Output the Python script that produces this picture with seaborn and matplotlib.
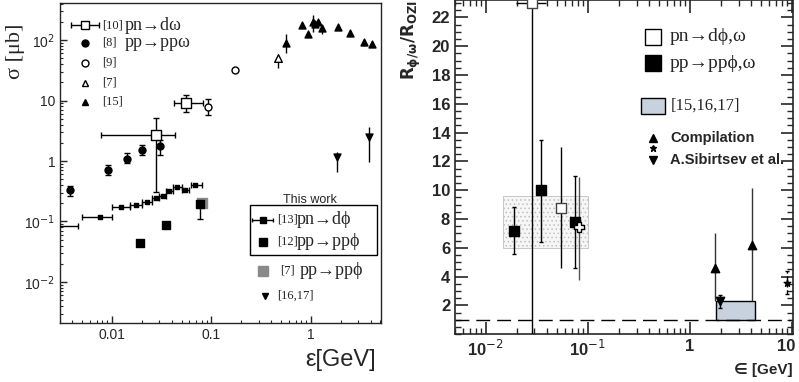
import numpy as np
import matplotlib
matplotlib.use('Agg')
import matplotlib.pyplot as plt
import matplotlib.ticker as mticker
import matplotlib.transforms as mtransforms
from matplotlib.patches import Rectangle
import seaborn as sns

sns.set_style('ticks')
plt.rcParams['font.family'] = ['Liberation Sans', 'DejaVu Sans']
plt.rcParams['hatch.linewidth'] = 0.6
SERIF = ['Liberation Serif', 'DejaVu Serif']

# ---------------- left panel data: sigma vs epsilon ----------------
# [10] pn -> d omega (open squares)
pnw_x = [0.028, 0.056]
pnw_y = [2.7, 9.2]
pnw_xlo = [0.0078, 0.042]
pnw_xhi = [0.043, 0.082]
pnw_ylo = [0.31, 6.5]
pnw_yhi = [5.1, 12.3]

# [8] pp -> pp omega (filled circles)
ppw_x = [0.00375, 0.0091, 0.0143, 0.0198, 0.0302]
ppw_y = [0.33, 0.71, 1.1, 1.52, 1.77]
ppw_ylo = [0.26, 0.58, 0.91, 1.24, 1.25]
ppw_yhi = [0.39, 0.85, 1.34, 1.84, 2.2]

# [9] open circles
c9_x = [0.092, 0.172]
c9_y = [7.8, 31.9]
c9_ylo = [5.8, 31.9]
c9_yhi = [10.5, 31.9]

# [7] open triangle
t7_x = [0.47]
t7_y = [50.0]
t7_ylo = [34.0]
t7_yhi = [50.0]

# [15] filled triangles
t15_x = [0.557, 0.81, 0.94, 1.06, 1.10, 1.19, 1.28, 1.88, 2.48, 3.38, 4.09]
t15_y = [90, 177, 124, 201, 184, 201, 156, 166, 132, 92, 86]
t15_ylo = [60, 177, 124, 137, 184, 201, 125, 166, 132, 80, 86]
t15_yhi = [128, 177, 124, 259, 184, 201, 156, 166, 132, 105, 86]

# [16,17] down triangles
t16_x = [1.81, 3.87]
t16_y = [1.18, 2.52]
t16_ylo = [0.67, 0.98]
t16_yhi = [1.43, 3.7]

# [13] pn -> d phi (small squares, x bins)
pnf_x = [0.0028, 0.0075, 0.01245, 0.0175, 0.0225, 0.0275, 0.0326, 0.0375, 0.0452, 0.0548, 0.069]
pnf_y = [0.085, 0.119, 0.171, 0.19, 0.21, 0.245, 0.267, 0.315, 0.372, 0.336, 0.406]
pnf_xlo = [0.0020, 0.0050, 0.0100, 0.0151, 0.0200, 0.0252, 0.0300, 0.0350, 0.0410, 0.0505, 0.0625]
pnf_xhi = [0.0045, 0.0100, 0.0151, 0.0200, 0.0252, 0.0300, 0.0350, 0.0410, 0.0505, 0.0600, 0.0800]

# [12] pp -> pp phi (big squares)
ppf_x = [0.0189, 0.0348, 0.076]
ppf_y = [0.0447, 0.0865, 0.195]
ppf_ylo = [0.0447, 0.0865, 0.11]
ppf_yhi = [0.0447, 0.0865, 0.24]

# [7] pp -> pp phi (grey square)
g7_x = [0.081]
g7_y = [0.20]

# ---------------- right panel data: ratio vs epsilon ----------------
r_pn_x = [0.0281, 0.0546]
r_pn_y = [23.0, 8.8]
r_pn_xlo = [0.0198, 0.0546]
r_pn_xhi = [0.039, 0.0546]
r_pn_ylo = [-1.0, 4.6]
r_pn_yhi = [23.5, 13.0]

r_pp_x = [0.0187, 0.0348, 0.0753]
r_pp_y = [7.2, 10.0, 7.8]
r_pp_ylo = [5.6, 6.4, 4.6]
r_pp_yhi = [8.85, 13.5, 11.0]

r_cross_x = [0.0826]
r_cross_y = [7.42]
r_cross_ylo = [3.8]
r_cross_yhi = [10.9]

comp_x = [1.77, 4.07]
comp_y = [4.6, 6.2]
comp_ylo = [2.28, 2.3]
comp_yhi = [7.06, 10.15]

sib_x = [1.98]
sib_y = [2.3]
sib_ylo = [1.8]
sib_yhi = [2.7]

star_x = [8.9]
star_y = [3.53]
star_ylo = [2.83]
star_yhi = [4.36]

band_dots = (0.0146, 0.0996, 6.0, 9.6)   # x0, x1, y0, y1
band_blue = (1.78, 4.3, 1.0, 2.28)


def asym(v, lo, hi):
    v = np.asarray(v, float)
    return [v - np.asarray(lo, float), np.asarray(hi, float) - v]


def marks(ax, x, y, marker, size, face, edge='k', lw=1.0, zorder=4):
    sns.scatterplot(x=x, y=y, marker=marker, s=size ** 2, color=face,
                    edgecolor=edge, linewidth=lw, ax=ax, zorder=zorder, legend=False)


fig = plt.figure(figsize=(7.99, 3.82), dpi=100)

# ==================== left panel ====================
ax = fig.add_axes([0.0751, 0.1545, 0.4018, 0.8377])
ax.set_xscale('log')
ax.set_yscale('log')
ax.set_xlim(0.003, 5.07)
ax.set_ylim(0.0021, 410)

eb = dict(fmt='none', ecolor='k', elinewidth=1.0, capsize=2.5, zorder=3)
ax.errorbar(pnw_x, pnw_y, xerr=asym(pnw_x, pnw_xlo, pnw_xhi),
            yerr=asym(pnw_y, pnw_ylo, pnw_yhi), **eb)
marks(ax, pnw_x, pnw_y, 's', 6.5, 'white')
ax.errorbar(ppw_x, ppw_y, yerr=asym(ppw_y, ppw_ylo, ppw_yhi), **eb)
marks(ax, ppw_x, ppw_y, 'o', 5, 'k')
ax.errorbar(c9_x, c9_y, yerr=asym(c9_y, c9_ylo, c9_yhi), **eb)
marks(ax, c9_x, c9_y, 'o', 5, 'white')
ax.errorbar(t7_x, t7_y, yerr=asym(t7_y, t7_ylo, t7_yhi), fmt='none', ecolor='k', elinewidth=1)
marks(ax, t7_x, t7_y, '^', 5.5, 'white')
ax.errorbar(t15_x, t15_y, yerr=asym(t15_y, t15_ylo, t15_yhi), fmt='none', ecolor='k', elinewidth=1)
marks(ax, t15_x, t15_y, '^', 5, 'k')
ax.errorbar(t16_x, t16_y, yerr=asym(t16_y, t16_ylo, t16_yhi), fmt='none', ecolor='k', elinewidth=1)
marks(ax, t16_x, t16_y, 'v', 5, 'k')
ax.errorbar(pnf_x, pnf_y, xerr=asym(pnf_x, pnf_xlo, pnf_xhi), fmt='none', ecolor='k',
            elinewidth=1, capsize=2, zorder=3)
marks(ax, pnf_x, pnf_y, 's', 3, 'k')
marks(ax, g7_x, g7_y, 's', 6.5, '#8a8a8a', edge='#8a8a8a')
ax.errorbar(ppf_x, ppf_y, yerr=asym(ppf_y, ppf_ylo, ppf_yhi), **eb)
marks(ax, ppf_x, ppf_y, 's', 6, 'k')

ax.set_xticks([0.01, 0.1, 1])
ax.set_xticklabels(['0.01', '0.1', '1'])
ax.set_yticks([0.01, 0.1, 1, 10, 100])
ax.set_yticklabels(['10$^{-2}$', '10$^{-1}$', '1', '10', '10$^{2}$'])
ax.tick_params(which='both', direction='in', labelsize=10)
ax.tick_params(which='major', length=5, width=1)
ax.tick_params(which='minor', length=2.5, width=0.8)
for s in ax.spines.values():
    s.set_linewidth(1.0)
ax.set_ylabel('σ [μb]', fontsize=16, family=SERIF)
ax.yaxis.set_label_coords(-0.14, 0.85)
ax.yaxis.label.set_va('center')
ax.set_xlabel('ε[GeV]', fontsize=17)
ax.xaxis.set_label_coords(0.985, -0.116)
ax.xaxis.label.set_ha('right')
ax.xaxis.label.set_va('center')

# left legend (top left)
T = ax.transAxes
rows = [(0.931, 's', 'white', '[10]', 'pn→dω'),
        (0.875, 'o', 'k', '[8]', 'pp→ppω'),
        (0.8125, 'o', 'white', '[9]', ''),
        (0.75, '^', 'white', '[7]', ''),
        (0.6906, '^', 'k', '[15]', '')]
for fy, m, fc, ref, txt in rows:
    ax.plot([0.078], [fy], marker=m, ms=6 if m == 's' else 5, mfc=fc, mec='k',
            transform=T, clip_on=False, zorder=5)
    ax.text(0.13, fy, ref, transform=T, fontsize=9, family=SERIF, va='center')
    if txt:
        ax.text(0.202, fy, txt, transform=T, fontsize=13, family=SERIF, va='center')
ax.errorbar([0.078], [0.931], xerr=[[0.044], [0.044]], fmt='none', ecolor='k',
            elinewidth=1, capsize=2, transform=T, clip_on=False)

# "This work" box
ax.text(0.779, 0.384, 'This work', transform=T, fontsize=9, ha='center', va='center')
ax.add_patch(Rectangle((0.592, 0.2125), 0.3955, 0.1562, transform=T, fill=False,
                       edgecolor='k', lw=1.0, zorder=5))
ax.errorbar([0.6315], [0.322], xerr=[[0.033], [0.033]], fmt='none', ecolor='k',
            elinewidth=1, capsize=1.5, transform=T)
ax.plot([0.6315], [0.322], 's', ms=5, color='k', transform=T)
ax.text(0.675, 0.322, '[13]', transform=T, fontsize=9, family=SERIF, va='center')
ax.text(0.737, 0.322, 'pn→dϕ', transform=T, fontsize=13, family=SERIF, va='center')
ax.plot([0.6315], [0.254], 's', ms=6, color='k', transform=T)
ax.text(0.675, 0.254, '[12]', transform=T, fontsize=9, family=SERIF, va='center')
ax.text(0.737, 0.254, 'pp→ppϕ', transform=T, fontsize=13, family=SERIF, va='center')
ax.plot([0.6315], [0.163], 's', ms=6.5, color='#8a8a8a', transform=T)
ax.text(0.685, 0.163, '[7]', transform=T, fontsize=9, family=SERIF, va='center')
ax.text(0.745, 0.163, 'pp→ppϕ', transform=T, fontsize=13, family=SERIF, va='center')
ax.plot([0.637], [0.084], 'v', ms=4.5, color='k', transform=T)
ax.text(0.677, 0.084, '[16,17]', transform=T, fontsize=9, family=SERIF, va='center')

# ==================== right panel ====================
bx = fig.add_axes([0.5695, 0.1249, 0.423, 0.875])
bx.set_xscale('log')
bx.set_xlim(0.005, 10.2)
bx.set_ylim(0, 23.2)

x0, x1, y0, y1 = band_dots
bx.add_patch(Rectangle((x0, y0), x1 - x0, y1 - y0, facecolor='#f6f6f6',
                       edgecolor='#c0c0c0', hatch='....', lw=0.6, zorder=1))
x0, x1, y0, y1 = band_blue
bx.add_patch(Rectangle((x0, y0), x1 - x0, y1 - y0, facecolor='#c8d2de',
                       edgecolor='k', lw=1.0, zorder=2))
bx.axhline(1.0, color='k', lw=1.0, ls=(0, (10, 5)), zorder=2)

eb2 = dict(fmt='none', ecolor='k', elinewidth=1.0, capsize=1.5, zorder=3)
bx.errorbar(r_pn_x, r_pn_y, xerr=asym(r_pn_x, r_pn_xlo, r_pn_xhi),
            yerr=asym(r_pn_y, r_pn_ylo, r_pn_yhi), fmt='none', ecolor='k', elinewidth=1.0, zorder=3)
marks(bx, r_pn_x, r_pn_y, 's', 6.5, 'white', edge='#444444')
bx.errorbar(r_pp_x, r_pp_y, yerr=asym(r_pp_y, r_pp_ylo, r_pp_yhi), **eb2)
marks(bx, r_pp_x, r_pp_y, 's', 6.5, 'k')
bx.errorbar(r_cross_x, r_cross_y, yerr=asym(r_cross_y, r_cross_ylo, r_cross_yhi),
            fmt='none', ecolor='#555555', elinewidth=1.0, zorder=3)
marks(bx, r_cross_x, r_cross_y, 'P', 7, 'white', edge='k', zorder=5)
bx.errorbar(comp_x, comp_y, yerr=asym(comp_y, comp_ylo, comp_yhi),
            fmt='none', ecolor='#333333', elinewidth=1.0, zorder=3)
marks(bx, comp_x, comp_y, '^', 6, 'k')
bx.errorbar(sib_x, sib_y, yerr=asym(sib_y, sib_ylo, sib_yhi), **eb2)
marks(bx, sib_x, sib_y, 'v', 6, 'k')
sc = bx.errorbar(star_x, star_y, yerr=asym(star_y, star_ylo, star_yhi), **eb2)
sc[2][0].set_linestyle((0, (3, 2)))
marks(bx, star_x, star_y, '*', 5, 'k')

bx.set_xticks([0.01, 0.1, 1, 10])
bx.set_xticklabels(['10$^{-2}$', '10$^{-1}$', '1', '10'])
bx.xaxis.set_minor_locator(mticker.LogLocator(base=10, subs=np.arange(2, 10), numticks=20))
bx.xaxis.set_minor_formatter(mticker.NullFormatter())
bx.set_yticks(np.arange(2, 23, 2))
bx.yaxis.set_minor_locator(mticker.MultipleLocator(0.5))
bx.tick_params(which='both', direction='in', top=True, right=True, labelsize=12)
bx.tick_params(which='major', length=9, width=1.2)
bx.tick_params(which='minor', length=4.5, width=1.0)
for lab in bx.get_xticklabels() + bx.get_yticklabels():
    lab.set_fontweight('bold')
# keep the last x label inside the canvas
last = bx.get_xticklabels()[-1]
last.set_transform(last.get_transform() +
                   mtransforms.ScaledTranslation(-4 / 72, 0, fig.dpi_scale_trans))
for s in bx.spines.values():
    s.set_linewidth(1.2)
bx.set_ylabel(r'$\mathbf{R_{\phi/\omega}/R_{OZI}}$', fontsize=12, loc='top')
bx.yaxis.set_label_coords(-0.095, 1.0)
bx.set_xlabel('∈ [GeV]', fontsize=11, fontweight='bold', loc='right',
              family=['Liberation Sans', 'DejaVu Sans'])
bx.xaxis.set_label_coords(1.0, -0.107)
bx.xaxis.label.set_va('center')

# right legend
R = bx.transAxes
bx.plot([0.586], [0.890], 's', ms=11, mfc='white', mec='k', mew=1.0, transform=R)
bx.text(0.636, 0.890, 'pn→dϕ,ω', transform=R, fontsize=14, family=SERIF, va='center')
bx.plot([0.586], [0.811], 's', ms=11, color='k', transform=R)
bx.text(0.636, 0.811, 'pp→ppϕ,ω', transform=R, fontsize=14, family=SERIF, va='center')
bx.add_patch(Rectangle((0.549, 0.6605), 0.072, 0.0456, transform=R,
                       facecolor='#c8d2de', edgecolor='k', lw=1.0))
bx.text(0.638, 0.683, '[15,16,17]', transform=R, fontsize=12, family=SERIF, va='center')
bx.plot([0.585], [0.587], '^', ms=6, color='k', transform=R)
bx.plot([0.585], [0.557], '*', ms=5, color='k', transform=R)
bx.plot([0.585], [0.521], 'v', ms=6, color='k', transform=R)
bx.text(0.636, 0.587, 'Compilation', transform=R, fontsize=10.5, fontweight='bold', va='center')
bx.text(0.636, 0.521, 'A.Sibirtsev et al.', transform=R, fontsize=10.5, fontweight='bold',
        va='center')

fig.savefig('out.png', dpi=100)
